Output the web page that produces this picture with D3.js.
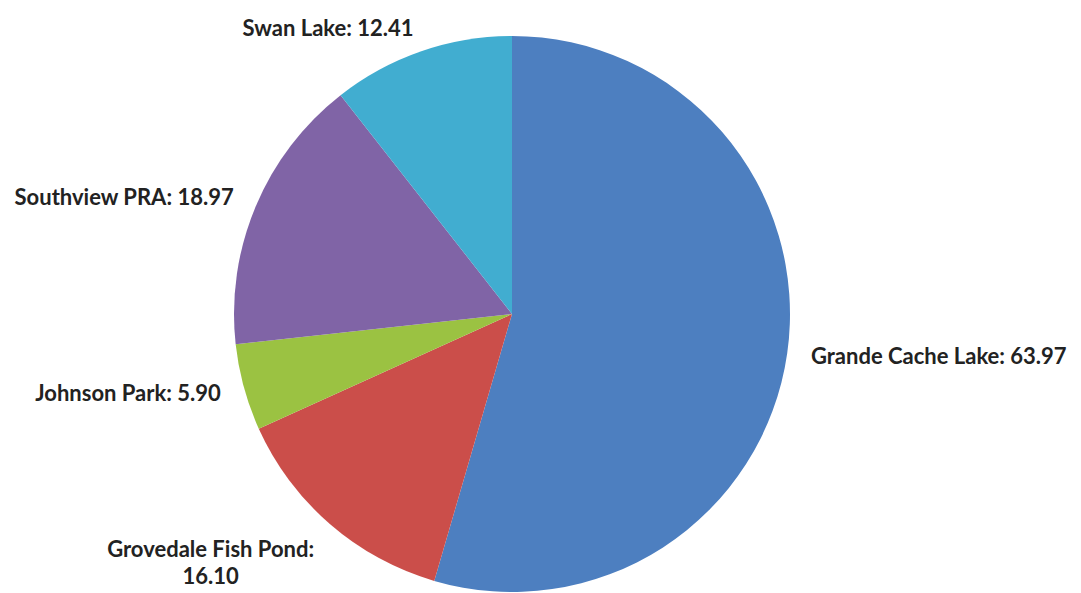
<!DOCTYPE html>
<html>
<head>
<meta charset="utf-8">
<script src="https://cdn.jsdelivr.net/npm/d3@7"></script>
<style>
  body { margin: 0; background: #fff; }
  .label { font-family: Lato, "Open Sans", sans-serif; font-weight: bold; font-size: 22px; fill: #222; }
</style>
</head>
<body>
<div id="chart"></div>
<script>
// chart data (clockwise from 12 o'clock)
var sites = ["Grande Cache Lake", "Grovedale Fish Pond", "Johnson Park", "Southview PRA", "Swan Lake"];
var values = [63.97, 16.10, 5.90, 18.97, 12.41];
var colors = ["#4d7fc0", "#cb4e4a", "#9bc242", "#8064a6", "#41add0"];
// labels that get wrapped onto two lines
var wrapped = ["Grovedale Fish Pond"];

var svgWidth = 1081;
var svgHeight = 593;
var cx = 512;
var cy = 314;
var radius = 278;
var labelRadius = 302;

var svg = d3.select("#chart")
    .append("svg")
    .attr("width", svgWidth)
    .attr("height", svgHeight);

var chartGroup = svg.append("g")
    .attr("transform", `translate(${cx}, ${cy})`);

var data = sites.map(function(s, i) {
    return { name: s, value: values[i], color: colors[i] };
});

var pie = d3.pie()
    .sort(null)
    .value(d => d.value);

var arc = d3.arc()
    .innerRadius(0)
    .outerRadius(radius);

var arcs = pie(data);

chartGroup.selectAll("path")
    .data(arcs)
    .enter()
    .append("path")
    .attr("d", arc)
    .attr("fill", d => d.data.color);

// labels: placed just outside the slice middle, anchored away from the pie
var lineHeight = 27;
arcs.forEach(function(d) {
    var mid = (d.startAngle + d.endAngle) / 2;
    var px = labelRadius * Math.sin(mid);
    var py = -labelRadius * Math.cos(mid);
    var left = px < 0;
    var txt = d.data.name + ": " + d.data.value.toFixed(2);

    if (wrapped.indexOf(d.data.name) >= 0) {
        var lines = [d.data.name + ":", d.data.value.toFixed(2)];
        var t = chartGroup.append("text")
            .attr("class", "label")
            .attr("text-anchor", "middle");
        lines.forEach(function(l, i) {
            t.append("tspan").attr("x", 0).attr("y", i * lineHeight).text(l);
        });
        var w = t.node().getBBox().width;
        var bx = left ? px - w / 2 : px + w / 2;
        var by = py + (py > 0 ? lineHeight * 0.75 : -lineHeight * 0.75);
        t.attr("transform", `translate(${bx}, ${by - lineHeight / 2})`);
        t.selectAll("tspan").attr("dy", "0.35em");
    } else {
        chartGroup.append("text")
            .attr("class", "label")
            .attr("x", px)
            .attr("y", py)
            .attr("dy", "0.35em")
            .attr("text-anchor", left ? "end" : "start")
            .text(txt);
    }
});
</script>
</body>
</html>
